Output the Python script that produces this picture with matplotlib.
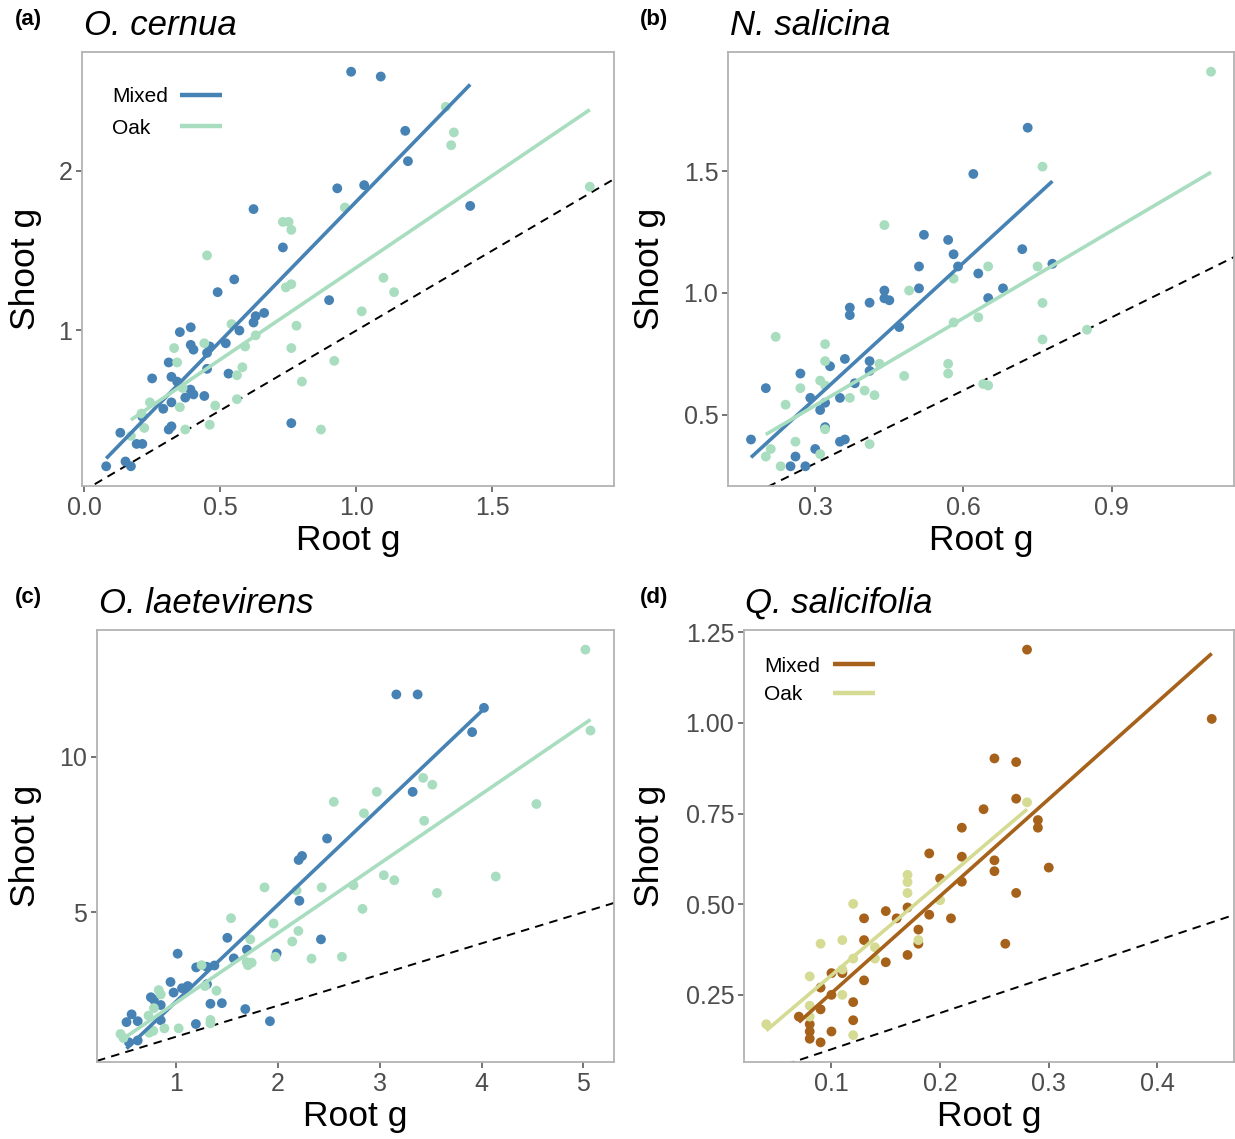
import numpy as np
import matplotlib
matplotlib.use("Agg")
import matplotlib.pyplot as plt
from matplotlib.lines import Line2D

plt.rcParams['font.family'] = ['Liberation Sans', 'DejaVu Sans']

# ---------------- data ----------------
# (a) O. cernua
a_mixed_root = [0.981, 1.090, 1.180, 1.190, 0.930, 1.029, 1.419, 0.622, 0.730, 0.551, 0.490, 0.900,
                0.661, 0.630, 0.622, 0.570, 0.351, 0.391, 0.391, 0.401, 0.461, 0.451, 0.520, 0.310,
                0.249, 0.320, 0.341, 0.451, 0.530, 0.390, 0.401, 0.371, 0.441, 0.320, 0.290, 0.213,
                0.132, 0.310, 0.320, 0.761, 0.192, 0.213, 0.151, 0.080, 0.171]
a_mixed_shoot = [2.62, 2.59, 2.25, 2.06, 1.89, 1.91, 1.78, 1.76, 1.52, 1.32, 1.24, 1.19,
                 1.11, 1.09, 1.05, 1.00, 0.99, 1.02, 0.91, 0.88, 0.90, 0.86, 0.92, 0.80,
                 0.70, 0.71, 0.68, 0.76, 0.73, 0.63, 0.60, 0.58, 0.59, 0.55, 0.51, 0.46,
                 0.36, 0.38, 0.40, 0.42, 0.29, 0.29, 0.18, 0.15, 0.15]
a_oak_root = [1.329, 1.359, 1.349, 1.859, 0.958, 0.730, 0.751, 0.761, 0.451, 1.100, 1.139, 0.741,
              0.761, 1.020, 0.541, 0.780, 0.630, 0.441, 0.330, 0.591, 0.761, 0.341, 0.919, 0.561,
              0.581, 0.800, 0.241, 0.361, 0.351, 0.481, 0.561, 0.210, 0.220, 0.461, 0.371, 0.870,
              0.171]
a_oak_shoot = [2.40, 2.24, 2.16, 1.90, 1.77, 1.68, 1.68, 1.63, 1.47, 1.33, 1.24, 1.27,
               1.29, 1.12, 1.04, 1.03, 0.97, 0.92, 0.89, 0.90, 0.89, 0.80, 0.81, 0.72,
               0.77, 0.68, 0.55, 0.64, 0.52, 0.53, 0.57, 0.48, 0.39, 0.41, 0.38, 0.38,
               0.34]

# (b) N. salicina
b_mixed_root = [0.730, 0.620, 0.520, 0.569, 0.580, 0.589, 0.510, 0.719, 0.780, 0.630, 0.680, 0.650,
                0.510, 0.440, 0.440, 0.450, 0.410, 0.370, 0.370, 0.470, 0.360, 0.410, 0.410, 0.330,
                0.270, 0.380, 0.200, 0.290, 0.350, 0.320, 0.310, 0.320, 0.170, 0.350, 0.360, 0.300,
                0.260, 0.250, 0.280]
b_mixed_shoot = [1.679, 1.489, 1.239, 1.218, 1.159, 1.109, 1.109, 1.180, 1.120, 1.080, 1.019, 0.979,
                 1.019, 1.010, 0.978, 0.970, 0.960, 0.940, 0.909, 0.860, 0.729, 0.720, 0.680, 0.699,
                 0.669, 0.629, 0.609, 0.569, 0.569, 0.549, 0.519, 0.449, 0.398, 0.389, 0.398, 0.359,
                 0.328, 0.288, 0.288]
b_oak_root = [1.101, 0.760, 0.440, 0.750, 0.650, 0.580, 0.490, 0.760, 0.630, 0.580, 0.850, 0.760,
              0.220, 0.320, 0.320, 0.430, 0.569, 0.569, 0.480, 0.310, 0.270, 0.320, 0.640, 0.650,
              0.400, 0.420, 0.370, 0.240, 0.320, 0.410, 0.260, 0.210, 0.200, 0.310, 0.230]
b_oak_shoot = [1.909, 1.519, 1.279, 1.109, 1.109, 1.059, 1.010, 0.959, 0.900, 0.879, 0.849, 0.809,
               0.820, 0.790, 0.720, 0.709, 0.709, 0.669, 0.659, 0.640, 0.609, 0.620, 0.626, 0.620,
               0.599, 0.580, 0.569, 0.541, 0.440, 0.379, 0.389, 0.359, 0.328, 0.338, 0.288]

# (c) O. laetevirens
c_mixed_root = [3.164, 3.373, 4.024, 3.908, 3.324, 2.484, 2.238, 2.205, 2.212, 2.424, 1.505, 1.989,
                1.697, 1.568, 1.017, 1.378, 1.199, 1.302, 0.947, 0.977, 1.060, 1.116, 1.305, 0.754,
                0.784, 0.851, 1.339, 1.451, 1.681, 0.565, 0.515, 0.625, 0.851, 1.196, 1.923, 0.625,
                0.539]
c_mixed_shoot = [12.00, 12.00, 11.57, 10.79, 8.87, 7.37, 6.81, 6.68, 5.37, 4.13, 4.18, 3.68,
                 3.80, 3.52, 3.67, 3.29, 3.23, 3.25, 2.76, 2.42, 2.56, 2.63, 2.69, 2.27,
                 2.19, 2.02, 2.06, 2.08, 1.89, 1.72, 1.47, 1.50, 1.53, 1.41, 1.50, 0.88,
                 0.82]
c_oak_root = [5.020, 5.070, 3.427, 3.517, 2.972, 2.550, 4.539, 2.846, 3.437, 3.041, 3.144, 4.140,
              3.563, 1.870, 2.185, 2.431, 2.743, 2.832, 1.541, 1.959, 2.202, 1.730, 2.142, 1.976,
              2.331, 2.630, 1.252, 1.694, 1.744, 1.707, 1.285, 1.398, 0.831, 0.851, 0.784, 0.731,
              0.778, 0.738, 0.887, 1.027, 1.339, 1.339, 0.456, 0.485]
c_oak_shoot = [13.44, 10.84, 9.32, 9.10, 8.87, 8.55, 8.48, 8.18, 7.94, 6.19, 6.03, 6.15,
               5.62, 5.80, 5.70, 5.80, 5.87, 5.11, 4.81, 4.64, 4.40, 4.13, 4.06, 3.57,
               3.51, 3.57, 3.30, 3.40, 3.38, 3.30, 2.63, 2.48, 2.50, 2.36, 1.92, 1.68,
               1.19, 1.13, 1.27, 1.27, 1.54, 1.43, 1.09, 0.96]

# (d) Q. salicifolia
d_mixed_root = [0.280, 0.450, 0.250, 0.270, 0.270, 0.240, 0.290, 0.290, 0.220, 0.190, 0.220, 0.250,
                0.250, 0.300, 0.200, 0.220, 0.270, 0.170, 0.150, 0.190, 0.130, 0.160, 0.210, 0.180,
                0.130, 0.180, 0.260, 0.170, 0.150, 0.100, 0.110, 0.110, 0.130, 0.090, 0.100, 0.090,
                0.120, 0.070, 0.080, 0.120, 0.080, 0.080, 0.100, 0.090]
d_mixed_shoot = [1.202, 1.011, 0.902, 0.892, 0.791, 0.762, 0.732, 0.711, 0.711, 0.640, 0.631, 0.621,
                 0.591, 0.601, 0.571, 0.562, 0.531, 0.491, 0.481, 0.471, 0.461, 0.461, 0.461, 0.430,
                 0.401, 0.391, 0.391, 0.360, 0.340, 0.310, 0.310, 0.316, 0.290, 0.270, 0.250, 0.210,
                 0.230, 0.190, 0.169, 0.180, 0.149, 0.129, 0.149, 0.119]
d_oak_root = [0.280, 0.170, 0.170, 0.170, 0.200, 0.120, 0.110, 0.090, 0.180, 0.140, 0.140, 0.120,
              0.110, 0.080, 0.110, 0.080, 0.080, 0.120, 0.040]
d_oak_shoot = [0.781, 0.581, 0.561, 0.531, 0.511, 0.501, 0.401, 0.391, 0.401, 0.381, 0.350, 0.350,
               0.320, 0.301, 0.250, 0.220, 0.190, 0.139, 0.169]

groups = ["Mixed", "Oak"]
tags = ["(a)", "(b)", "(c)", "(d)"]
species = ["O. cernua", "N. salicina", "O. laetevirens", "Q. salicifolia"]
x_ticks = [[0.0, 0.5, 1.0, 1.5], [0.3, 0.6, 0.9], [1, 2, 3, 4, 5], [0.1, 0.2, 0.3, 0.4]]
x_ticklabels = [["0.0", "0.5", "1.0", "1.5"], ["0.3", "0.6", "0.9"], ["1", "2", "3", "4", "5"],
                ["0.1", "0.2", "0.3", "0.4"]]
y_ticks = [[1, 2], [0.5, 1.0, 1.5], [5, 10], [0.25, 0.50, 0.75, 1.00, 1.25]]
y_ticklabels = [["1", "2"], ["0.5", "1.0", "1.5"], ["5", "10"], ["0.25", "0.50", "0.75", "1.00", "1.25"]]

panels = [
    (a_mixed_root, a_mixed_shoot, a_oak_root, a_oak_shoot),
    (b_mixed_root, b_mixed_shoot, b_oak_root, b_oak_shoot),
    (c_mixed_root, c_mixed_shoot, c_oak_root, c_oak_shoot),
    (d_mixed_root, d_mixed_shoot, d_oak_root, d_oak_shoot),
]

blue_green = ["#4682B4", "#A8DDBF"]
brown_yellow = ["#A6611A", "#D5DB92"]
palettes = [blue_green, blue_green, blue_green, brown_yellow]

# ---------------- layout (pixels) ----------------
W, H = 1235, 1139
fig = plt.figure(figsize=(W / 100, H / 100), dpi=100)
boxes = [(82, 614, 52, 486), (728, 1234, 52, 486), (97, 614, 630, 1062), (744, 1234, 630, 1062)]
ylab_x = [26, 650, 26, 650]
tag_pos = [(15, 20), (640, 20), (15, 598), (640, 598)]
title_pos = [(84, 35), (730, 35), (99, 613), (745, 613)]
# legend: (text_x, line_x0, line_x1, row1_y, row2_y) or None
legend_pos = [(112, 180, 222, 95, 126), None, None, (764, 833, 875, 664, 693)]


def px(x, y):
    return x / W, 1 - y / H


for i, (mr, ms, orr, osh) in enumerate(panels):
    l, r, t, b = boxes[i]
    ax = fig.add_axes([l / W, 1 - b / H, (r - l) / W, (b - t) / H])
    cols = palettes[i]
    allx = np.array(mr + orr); ally = np.array(ms + osh)
    xr = allx.max() - allx.min(); yr = ally.max() - ally.min()
    xlim = (allx.min() - 0.05 * xr, allx.max() + 0.05 * xr)
    ylim = (ally.min() - 0.05 * yr, ally.max() + 0.05 * yr)
    # 1:1 reference line
    xx = np.array(xlim)
    ax.plot(xx, xx, ls=(0, (4.4, 3.2)), color="black", lw=1.4, zorder=1)
    for g, (x, y) in enumerate([(mr, ms), (orr, osh)]):
        ax.scatter(np.array(x), np.array(y), s=50, color=cols[g], edgecolors="none", zorder=2)
    for g, (x, y) in enumerate([(mr, ms), (orr, osh)]):
        x = np.array(x); y = np.array(y)
        k, c0 = np.polyfit(x, y, 1)
        xs = np.array([x.min(), x.max()])
        ax.plot(xs, k * xs + c0, color=cols[g], lw=2.6, zorder=4, solid_capstyle="butt")
    ax.set_xlim(*xlim); ax.set_ylim(*ylim)
    ax.set_xticks(x_ticks[i]); ax.set_xticklabels(x_ticklabels[i])
    ax.set_yticks(y_ticks[i]); ax.set_yticklabels(y_ticklabels[i])
    ax.tick_params(axis="both", length=4, width=1.1, color="#4D4D4D", labelcolor="#4D4D4D",
                   labelsize=18, pad=3)
    for sp in ax.spines.values():
        sp.set_color("#B3B3B3"); sp.set_linewidth(1.3)
    ax.set_xlabel("Root g", fontsize=25.5, labelpad=3)
    ax.set_ylabel("Shoot g", fontsize=25.5, va="center")
    ax.yaxis.set_label_coords((ylab_x[i] - l) / (r - l), 0.5)
    fig.text(*px(*title_pos[i]), species[i], fontsize=25, style="italic",
             ha="left", va="baseline")
    fig.text(*px(*tag_pos[i]), tags[i], fontsize=16, weight="bold", ha="left", va="center")
    if legend_pos[i] is not None:
        tx, lx0, lx1, y1, y2 = legend_pos[i]
        for g, yy in enumerate([y1, y2]):
            fig.text(*px(tx, yy), groups[g], fontsize=15, ha="left", va="center_baseline")
            fig.add_artist(Line2D([lx0 / W, lx1 / W], [1 - yy / H, 1 - yy / H], color=cols[g],
                                  lw=3.2, solid_capstyle="butt", transform=fig.transFigure))

fig.savefig("out.png", dpi=100)
